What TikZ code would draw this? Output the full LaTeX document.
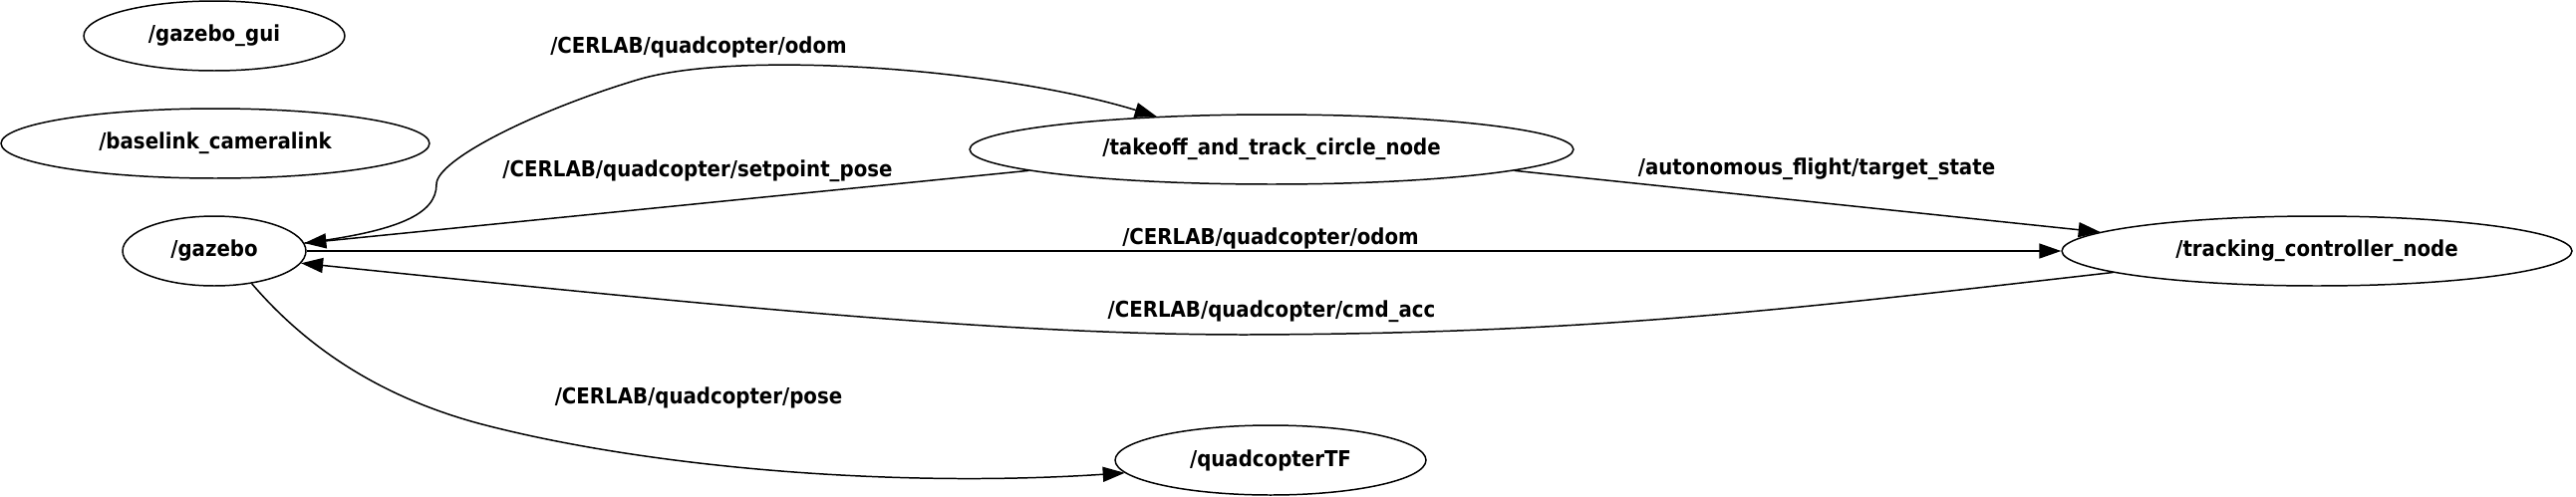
\documentclass[tikz,border=0pt]{standalone}
\usepackage{fontspec}
\newfontfamily\rosfont{DejaVu Sans}[FakeStretch=0.9]
\usetikzlibrary{arrows.meta,shapes.geometric}

\begin{document}
\begin{tikzpicture}[
    x=0.02cm, y=-0.02cm,
    font=\rosfont\bfseries\fontsize{12.5pt}{14pt}\selectfont,
    rosnode/.style={draw=black, ellipse, line width=0.85pt, inner sep=0pt, minimum height=1.4cm},
    topic/.style={anchor=base, inner sep=0pt},
    arrow/.style={-{Triangle[length=0.44cm,width=0.3cm]}, line width=0.85pt, draw=black}
]
\useasboundingbox (0,0) rectangle (2585,498);

\node[rosnode, minimum width=5.24cm] (gazebogui) at (215,36) {/gazebo\_gui};
\node[rosnode, minimum width=8.6cm] (baselink) at (216,144) {/baselink\_cameralink};
\node[rosnode, minimum width=3.68cm] (gazebo) at (215,252) {/gazebo};
\node[rosnode, minimum width=12.12cm] (takeoff) at (1276,150) {/takeoff\_and\_track\_circle\_node};
\node[rosnode, minimum width=10.24cm] (tracking) at (2325,252) {/tracking\_controller\_node};
\node[rosnode, minimum width=6.24cm] (quadtf) at (1275,462) {/quadcopterTF};

\draw[arrow] (gazebo.5) .. controls (400,232) and (438,215) .. (438,185) .. controls (438,160) and (540,110) .. (640,80) .. controls (740,50) and (1000,68) .. (takeoff.164);
\draw[arrow] (takeoff.185) -- (gazebo.5);
\draw[arrow] (takeoff.355) -- (tracking.175);
\draw[arrow] (gazebo) -- (tracking);
\draw[arrow] (tracking.186) .. controls (1800,310) and (1600,335) .. (1250,336) .. controls (1000,336) and (700,305) .. (gazebo.352);
\draw[arrow] (gazebo.319) .. controls (300,340) and (370,395) .. (480,425) .. controls (650,470) and (900,490) .. (quadtf.185);

\node[topic] (odomtop) at (701,53) {/CERLAB/quadcopter/odom};
\node[topic] (setpoint) at (700,177) {/CERLAB/quadcopter/setpoint\_pose};
\node[topic] (target) at (1823,175) {/autonomous\_flight/target\_state};
\node[topic] (odommid) at (1275,245) {/CERLAB/quadcopter/odom};
\node[topic] (cmdacc) at (1276,318) {/CERLAB/quadcopter/cmd\_acc};
\node[topic] (pose) at (701,405) {/CERLAB/quadcopter/pose};
\end{tikzpicture}
\end{document}
